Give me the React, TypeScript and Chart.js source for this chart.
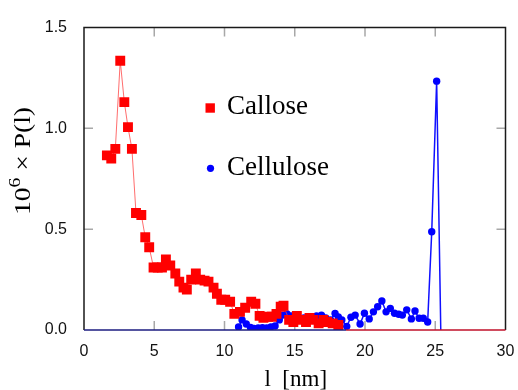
import React, { useEffect, useRef } from 'react';
import { Chart, registerables } from 'chart.js';

Chart.register(...registerables);

// ---- data ----
const calloseL = [1.63, 1.94, 2.23, 2.58, 2.87, 3.13, 3.41, 3.70, 4.08, 4.36, 4.64, 4.95, 5.25, 5.55, 5.83, 6.14, 6.50, 6.78, 7.08, 7.32, 7.63, 7.96, 8.27, 8.58, 8.86, 9.22, 9.46, 9.77, 10.05, 10.40, 10.70, 11.10, 11.47, 11.90, 12.20, 12.50, 12.77, 13.10, 13.37, 13.70, 14.00, 14.20, 14.60, 14.90, 15.15, 15.50, 15.80, 16.05, 16.30, 16.70, 17.04, 17.30, 17.70, 18.10];
const calloseP = [0.866, 0.85, 0.898, 1.335, 1.13, 1.006, 0.898, 0.58, 0.57, 0.46, 0.41, 0.31, 0.31, 0.31, 0.35, 0.32, 0.28, 0.24, 0.21, 0.20, 0.25, 0.28, 0.25, 0.245, 0.24, 0.21, 0.18, 0.15, 0.15, 0.14, 0.08, 0.09, 0.11, 0.14, 0.13, 0.07, 0.06, 0.066, 0.066, 0.08, 0.115, 0.12, 0.05, 0.04, 0.07, 0.05, 0.04, 0.06, 0.05, 0.033, 0.05, 0.04, 0.033, 0.025];
const celluloseL = [11.0, 11.25, 11.55, 11.85, 12.1, 12.4, 12.7, 13.0, 13.3, 13.6, 13.9, 14.15, 14.45, 14.75, 15.05, 15.35, 15.65, 15.95, 16.25, 16.55, 16.9, 17.2, 17.55, 17.87, 18.1, 18.35, 18.7, 19.0, 19.3, 19.65, 19.96, 20.3, 20.6, 20.9, 21.2, 21.5, 21.8, 22.1, 22.4, 22.66, 22.97, 23.3, 23.56, 23.85, 24.15, 24.46, 24.75, 25.1, 25.4];
const celluloseP = [0.015, 0.05, 0.03, 0.013, 0.008, 0.01, 0.012, 0.01, 0.015, 0.02, 0.05, 0.074, 0.08, 0.07, 0.06, 0.05, 0.06, 0.066, 0.06, 0.07, 0.074, 0.06, 0.05, 0.082, 0.065, 0.05, 0.018, 0.063, 0.074, 0.03, 0.083, 0.055, 0.09, 0.115, 0.144, 0.09, 0.107, 0.083, 0.078, 0.074, 0.1, 0.055, 0.094, 0.058, 0.058, 0.04, 0.487, 1.234, -0.03];
const xTicks = [0, 5, 10, 15, 20, 25, 30];
const yTicks = [0, 0.5, 1.0, 1.5];
const seriesNames = ['Callose', 'Cellulose'];
const xTitle = 'l  [nm]';
const yTitleBase = '10';
const yTitleExp = '6';
const yTitleRest = ' \u00d7 P(l)';

const SERIF = '"Liberation Serif", "DejaVu Serif", serif';
const SANS = '"Liberation Sans", Arial, sans-serif';

const framePlugin = {
  id: 'frame',
  beforeDatasetsDraw(chart: any) {
    const { ctx, chartArea: a, scales } = chart;
    const xs = scales.x, ys = scales.y;
    ctx.save();
    ctx.strokeStyle = '#a8a8a8';
    ctx.lineWidth = 1.5;
    const L = 9;
    xTicks.slice(1, -1).forEach((v) => {
      const px = xs.getPixelForValue(v);
      ctx.beginPath();
      ctx.moveTo(px, a.bottom); ctx.lineTo(px, a.bottom - L);
      ctx.moveTo(px, a.top); ctx.lineTo(px, a.top + L);
      ctx.stroke();
    });
    yTicks.slice(1, -1).forEach((v) => {
      const py = ys.getPixelForValue(v);
      ctx.beginPath();
      ctx.moveTo(a.left, py); ctx.lineTo(a.left + L, py);
      ctx.moveTo(a.right, py); ctx.lineTo(a.right - L, py);
      ctx.stroke();
    });
    ctx.restore();
  },
  afterDatasetsDraw(chart: any) {
    const { ctx, chartArea: a, scales } = chart;
    ctx.save();
    // frame
    ctx.lineWidth = 1.5;
    ctx.strokeStyle = '#1a1a1a';
    ctx.beginPath();
    ctx.moveTo(a.left, a.bottom); ctx.lineTo(a.left, a.top);
    ctx.lineTo(a.right, a.top); ctx.lineTo(a.right, a.bottom);
    ctx.stroke();
    const split = scales.x.getPixelForValue(18.65);
    ctx.strokeStyle = '#1c1c80';
    ctx.beginPath(); ctx.moveTo(a.left, a.bottom); ctx.lineTo(split, a.bottom); ctx.stroke();
    ctx.strokeStyle = '#c0102a';
    ctx.beginPath(); ctx.moveTo(split, a.bottom); ctx.lineTo(a.right, a.bottom); ctx.stroke();

    // legend
    const ds = chart.data.datasets;
    ctx.fillStyle = ds[0].pointBackgroundColor;
    ctx.fillRect(205.5, 103.3, 9.4, 9.4);
    ctx.fillStyle = ds[1].pointBackgroundColor;
    ctx.beginPath(); ctx.arc(210.5, 168.3, 3.6, 0, Math.PI * 2); ctx.fill();
    ctx.fillStyle = '#000';
    ctx.font = `27px ${SERIF}`;
    ctx.textAlign = 'left';
    ctx.textBaseline = 'alphabetic';
    ctx.fillText(ds[0].label, 227, 114);
    ctx.fillText(ds[1].label, 227, 175);

    // x title
    ctx.font = `23px ${SERIF}`;
    ctx.textAlign = 'center';
    ctx.fillText(xTitle, (a.left + a.right) / 2 + 1, 386);

    // y title
    ctx.translate(30, 161);
    ctx.rotate(-Math.PI / 2);
    ctx.textAlign = 'left';
    const big = `24px ${SERIF}`;
    const small = `17px ${SERIF}`;
    ctx.font = big;
    const w1 = ctx.measureText(yTitleBase).width;
    const w3 = ctx.measureText(yTitleRest).width;
    ctx.font = small;
    const w2 = ctx.measureText(yTitleExp).width;
    const total = w1 + w2 + w3;
    const sx = 108 / total;
    ctx.scale(sx, 1);
    let x = -total / 2;
    ctx.font = big;
    ctx.fillText(yTitleBase, x, 0);
    x += w1;
    ctx.font = small;
    ctx.fillText(yTitleExp, x, -10);
    x += w2;
    ctx.font = big;
    ctx.fillText(yTitleRest, x, 0);
    ctx.restore();
  },
};

export default function App() {
  const ref = useRef<HTMLCanvasElement | null>(null);
  useEffect(() => {
    if (!ref.current) return;
    const chart = new Chart(ref.current, {
      type: 'scatter',
      data: {
        datasets: [
          {
            label: seriesNames[0],
            data: calloseL.map((l, i) => ({ x: l, y: calloseP[i] })),
            showLine: true,
            borderColor: 'rgba(255,60,60,0.75)',
            borderWidth: 1,
            pointStyle: 'rect',
            pointRadius: 7,
            pointBorderWidth: 0,
            pointBackgroundColor: '#ff0000',
            pointBorderColor: '#ff0000',
          },
          {
            label: seriesNames[1],
            data: celluloseL.map((l, i) => ({ x: l, y: celluloseP[i] })),
            showLine: true,
            borderColor: '#1010ff',
            borderWidth: 1.5,
            pointStyle: 'circle',
            pointRadius: 3.7,
            pointBorderWidth: 0,
            pointBackgroundColor: '#0000ff',
            pointBorderColor: '#0000ff',
          },
        ],
      },
      options: {
        animation: false,
        responsive: false,
        devicePixelRatio: 1,
        events: [],
        layout: { padding: { top: 27.5, right: 12.5, left: 0, bottom: 0 } },
        plugins: { legend: { display: false }, tooltip: { enabled: false }, title: { display: false } },
        scales: {
          x: {
            type: 'linear',
            min: 0,
            max: 30,
            afterFit: (s: any) => { s.height = 60; s.paddingLeft = 0; s.paddingRight = 0; },
            afterBuildTicks: (s: any) => { s.ticks = xTicks.map((v) => ({ value: v })); },
            grid: { display: false, drawTicks: false },
            border: { display: false },
            ticks: {
              padding: 12,
              color: '#111',
              font: { family: SANS, size: 16 },
              callback: (v: any) => String(v),
            },
          },
          y: {
            type: 'linear',
            min: 0,
            max: 1.5,
            afterFit: (s: any) => { s.width = 84; s.paddingTop = 0; s.paddingBottom = 0; },
            afterBuildTicks: (s: any) => { s.ticks = yTicks.map((v) => ({ value: v })); },
            grid: { display: false, drawTicks: false },
            border: { display: false },
            ticks: {
              padding: 17,
              color: '#111',
              font: { family: SANS, size: 16 },
              callback: (v: any) => Number(v).toFixed(1),
            },
          },
        },
      },
      plugins: [framePlugin],
    });
    return () => chart.destroy();
  }, []);
  return (
    <div style={{ position: 'absolute', left: 0, top: 0, width: 518, height: 390, background: '#fff' }}>
      <canvas ref={ref} width={518} height={390} />
    </div>
  );
}
